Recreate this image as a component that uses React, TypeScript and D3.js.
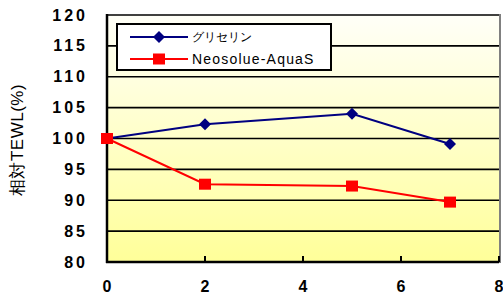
import React from "react";
import * as d3 from "d3";

const days = [0, 2, 5, 7];
const glycerin = [100, 102.3, 104, 99.1];
const neosolue = [100, 92.6, 92.3, 89.7];
const seriesNames = ["グリセリン", "Neosolue-AquaS"];
const yTicks = [80, 85, 90, 95, 100, 105, 110, 115, 120];
const xTicks = [0, 2, 4, 6, 8];
const yTitle = "相対TEWL(%)";

const W = 503, H = 297;
const L = 107, R = 499, T = 15, B = 262;

export default function App() {
  const x = d3.scaleLinear().domain([0, 8]).range([L, R]);
  const y = d3.scaleLinear().domain([80, 120]).range([B, T]);
  const line = d3.line<number>().x((_, i) => x(days[i])).y((v) => y(v));
  const font = "'Liberation Sans', Arial, sans-serif";
  const diamond = (cx: number, cy: number, r: number) =>
    `M${cx},${cy - r}L${cx + r},${cy}L${cx},${cy + r}L${cx - r},${cy}Z`;
  return (
    <svg width={W} height={H} style={{ position: "absolute", left: 0, top: 0 }} fontFamily={font}>
      <defs>
        <linearGradient id="bg" x1="0" y1="0" x2="0" y2="1">
          <stop offset="0" stopColor="#fffff8" />
          <stop offset="1" stopColor="#ffff99" />
        </linearGradient>
      </defs>
      <rect x={0} y={0} width={W} height={H} fill="#ffffff" />
      <rect x={L} y={T} width={R - L} height={B - T} fill="url(#bg)" />
      <line x1={R + 1} x2={R + 1} y1={T - 1} y2={B + 1} stroke="#808080" strokeWidth={2} />
      {yTicks.filter((t) => t > 80).map((t) => (
        <line key={t} x1={L} x2={R} y1={y(t)} y2={y(t)} stroke="#000" strokeWidth={1.7} />
      ))}
      {xTicks.map((t) => (
        <line key={t} x1={x(t)} x2={x(t)} y1={B} y2={B - 6} stroke="#000" strokeWidth={2} />
      ))}
      <line x1={L} x2={L} y1={T - 1} y2={B + 1} stroke="#000" strokeWidth={2.5} />
      <line x1={L - 1} x2={R} y1={B} y2={B} stroke="#000" strokeWidth={2.5} />
      <path d={line(glycerin) || ""} fill="none" stroke="#000080" strokeWidth={2} />
      <path d={line(neosolue) || ""} fill="none" stroke="#ff0000" strokeWidth={2} />
      {glycerin.map((v, i) => (
        <path key={i} d={diamond(x(days[i]), y(v), 6)} fill="#000080" />
      ))}
      {neosolue.map((v, i) => (
        <rect key={i} x={x(days[i]) - 6} y={y(v) - 5.5} width={12} height={11} fill="#ff0000" />
      ))}
      <rect x={117} y={24} width={214} height={46} fill="#ffffff" stroke="#000" strokeWidth={2} />
      <line x1={130} x2={188} y1={37} y2={37} stroke="#000080" strokeWidth={2} />
      <path d={diamond(159, 37, 6)} fill="#000080" />
      <text x={192} y={41} fontSize={12} fill="#000">{seriesNames[0]}</text>
      <line x1={130} x2={188} y1={59} y2={59} stroke="#ff0000" strokeWidth={2} />
      <rect x={153} y={53.5} width={12} height={11} fill="#ff0000" />
      <text x={192} y={64} fontSize={14} fill="#000" letterSpacing={1.2}>{seriesNames[1]}</text>
      {yTicks.map((t) => (
        <text key={t} x={88} y={y(t) + 5.5} fontSize={16} fontWeight="bold" textAnchor="end" letterSpacing={3}>{t}</text>
      ))}
      {xTicks.map((t) => (
        <text key={t} x={x(t)} y={292} fontSize={16} fontWeight="bold" textAnchor="middle">{t}</text>
      ))}
      <text transform="translate(23,140) rotate(-90)" fontSize={17} textAnchor="middle" letterSpacing={0.5}>{yTitle}</text>
    </svg>
  );
}
